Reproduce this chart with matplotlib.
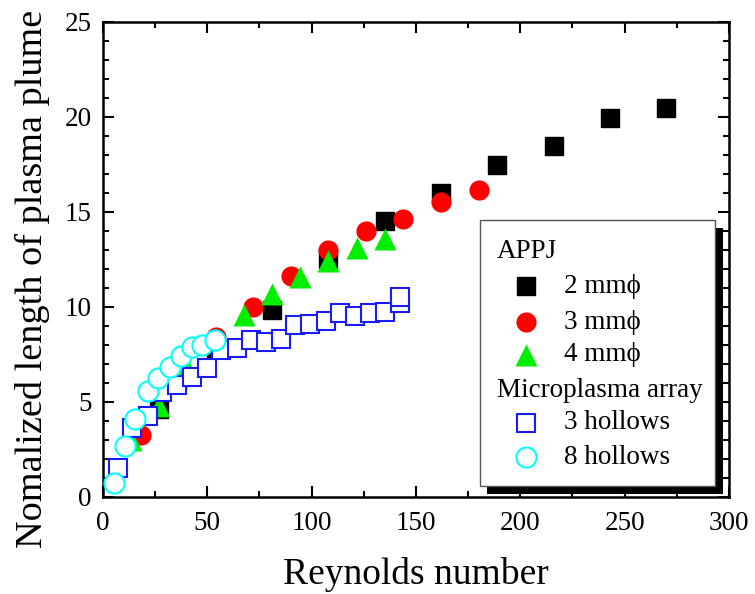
import numpy as np
import matplotlib
matplotlib.use("Agg")
import matplotlib.pyplot as plt
from matplotlib.patches import Rectangle
from matplotlib.ticker import MultipleLocator

plt.rcParams['font.family'] = ['Liberation Serif', 'DejaVu Serif']

# APPJ 2 mm
re_2mm = [27, 54, 81, 108, 135, 162, 189, 216, 243, 270]
len_2mm = [4.65, 7.8, 9.85, 12.5, 14.5, 16.0, 17.47, 18.47, 19.96, 20.49]
# APPJ 3 mm
re_3mm = [18, 36, 54, 72, 90, 108, 126, 144, 162, 180]
len_3mm = [3.25, 6.0, 8.4, 10.0, 11.65, 13.0, 14.0, 14.65, 15.5, 16.15]
# APPJ 4 mm
re_4mm = [13.5, 27, 40.5, 67.5, 81, 94.5, 108, 121.5, 135]
len_4mm = [3.0, 4.8, 6.8, 9.6, 10.7, 11.6, 12.4, 13.1, 13.6]
# microplasma array, 3 hollows
re_3h = [7.1, 14.0, 21.4, 28.4, 35.7, 42.7, 49.9, 56.8, 64.0, 71.0, 78.2, 85.4,
         92.0, 99.4, 106.7, 113.8, 120.7, 127.9, 135.1, 142.3, 142.3]
len_3h = [1.5, 3.65, 4.25, 5.5, 5.87, 6.33, 6.8, 7.75, 7.85, 8.28, 8.15, 8.3,
          9.05, 9.1, 9.28, 9.67, 9.5, 9.67, 9.72, 10.19, 10.5]
# microplasma array, 8 hollows
re_8h = [5.4, 10.5, 15.5, 21.5, 26.6, 31.9, 37.2, 42.5, 47.6, 53.5]
len_8h = [0.75, 2.7, 4.12, 5.56, 6.28, 6.85, 7.42, 7.92, 8.0, 8.25]

fig = plt.figure(figsize=(7.55, 5.94), dpi=100)
ax = fig.add_axes([0.1364, 0.1633, 0.8291, 0.7997])

ax.plot(re_2mm, len_2mm, ls='none', marker='s', ms=13, color='black', zorder=3)
ax.plot(re_3mm, len_3mm, ls='none', marker='o', ms=14.5, color='red', mec='none', zorder=4)
ax.plot(re_4mm, len_4mm, ls='none', marker='^', ms=16, color='#00ee00', mec='none', zorder=5)
ax.plot(re_3h, len_3h, ls='none', marker='s', ms=12.5, mfc='white', mec='#1a1aff', mew=1.5, zorder=6)
ax.plot(re_8h, len_8h, ls='none', marker='o', ms=14.5, mfc='white', mec='cyan', mew=1.5, zorder=7)

ax.set_xlim(0, 300)
ax.set_ylim(0, 25)
ax.xaxis.set_major_locator(MultipleLocator(50))
ax.xaxis.set_minor_locator(MultipleLocator(25))
ax.yaxis.set_major_locator(MultipleLocator(5))
ax.yaxis.set_minor_locator(MultipleLocator(1))
ax.tick_params(which='both', direction='in', top=True, right=True, width=1.5)
ax.tick_params(which='major', length=8, labelsize=19.5)
ax.tick_params(which='minor', length=4)
ax.tick_params(axis='x', which='major', pad=10)
ax.tick_params(axis='y', which='major', pad=8)
for s in ax.spines.values():
    s.set_linewidth(1.8)

ax.set_xlabel('Reynolds number', fontsize=27, labelpad=15)
ax.set_ylabel('Nomalized length of plasma plume', fontsize=27.5)
ax.yaxis.set_label_coords(-0.085, 0.46)

# legend with solid shadow
lx, ly, lw, lh = 0.602, 0.023, 0.376, 0.560
ax.add_patch(Rectangle((lx + 0.012, ly - 0.016), lw, lh, transform=ax.transAxes,
                       facecolor='black', edgecolor='none', zorder=10, clip_on=False))
ax.add_patch(Rectangle((lx, ly), lw, lh, transform=ax.transAxes,
                       facecolor='white', edgecolor='#555555', lw=1.0, zorder=11))

rows = [0.516, 0.444, 0.368, 0.299, 0.225, 0.156, 0.084]
hx, mx, tx = 0.629, 0.676, 0.736
ax.text(hx, rows[0], 'APPJ', transform=ax.transAxes, fontsize=19.5, va='center', zorder=12)
ax.text(hx, rows[4], 'Microplasma array', transform=ax.transAxes, fontsize=19.5, va='center', zorder=12)
styles = [
    dict(marker='s', ms=13, color='black'),
    dict(marker='o', ms=14.5, color='red', mec='none'),
    dict(marker='^', ms=16, color='#00ee00', mec='none'),
    dict(marker='s', ms=12.5, mfc='white', mec='#1a1aff', mew=1.5),
    dict(marker='o', ms=14.5, mfc='white', mec='cyan', mew=1.5),
]
labels = ['2 mm\u03d5', '3 mm\u03d5', '4 mm\u03d5', '3 hollows', '8 hollows']
for r, st, lab in zip([rows[1], rows[2], rows[3], rows[5], rows[6]], styles, labels):
    ax.plot([mx], [r], ls='none', transform=ax.transAxes, zorder=12, clip_on=False, **st)
    ax.text(tx, r, lab, transform=ax.transAxes, fontsize=19.5, va='center', zorder=12)

fig.savefig('out.png', dpi=100)
